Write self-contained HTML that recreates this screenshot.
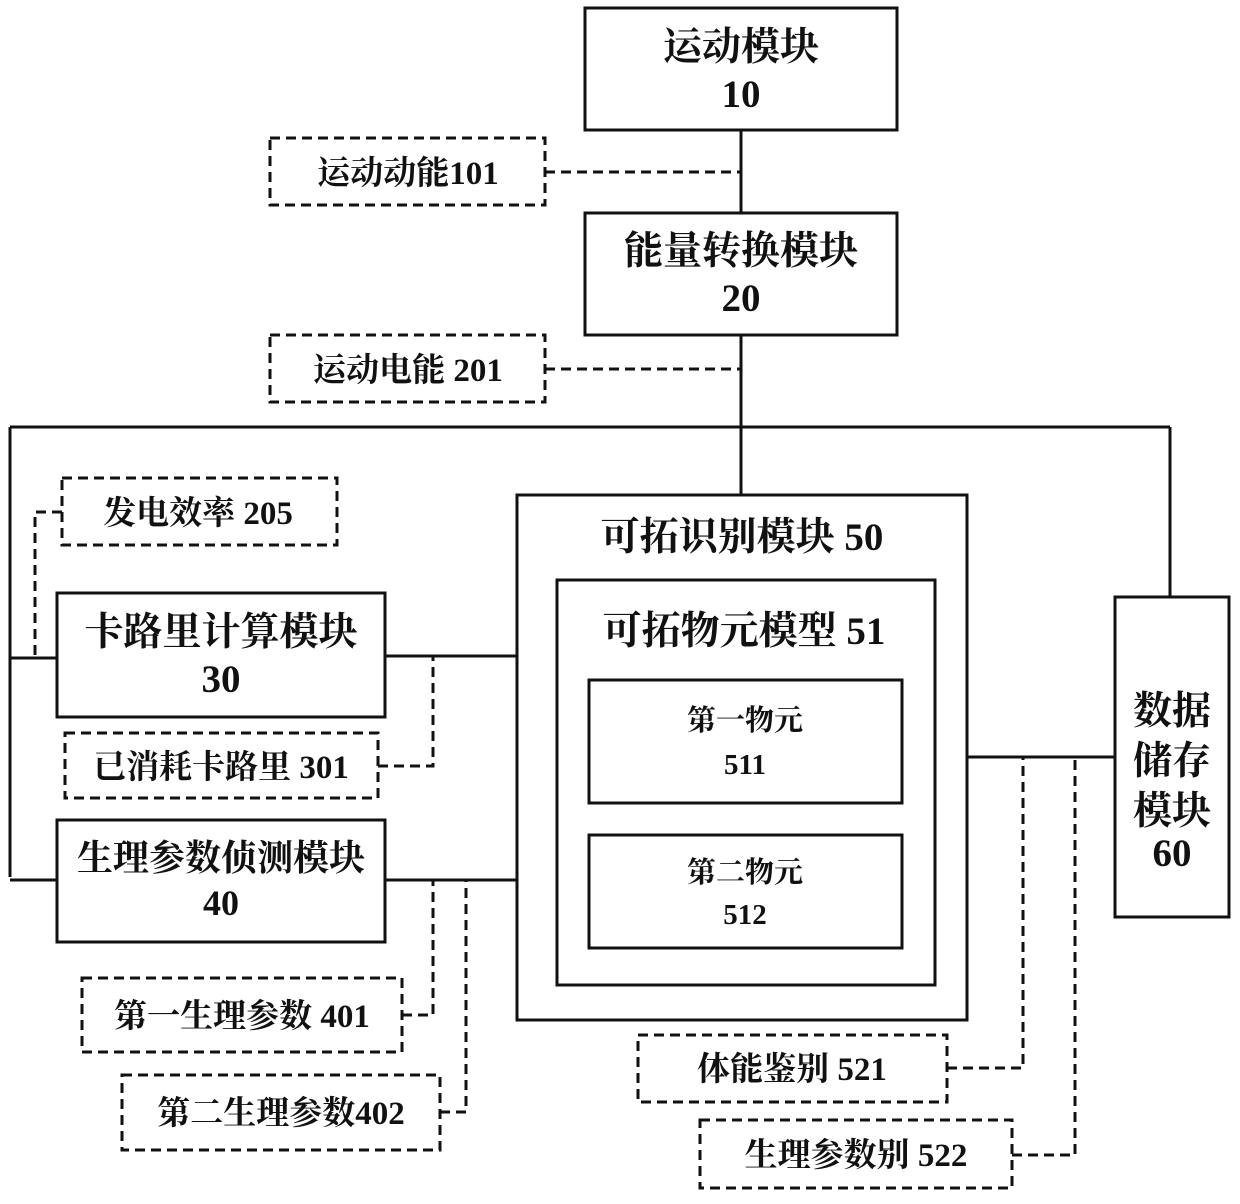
<!DOCTYPE html>
<html><head><meta charset="utf-8"><style>
html,body{margin:0;padding:0;background:#fff;}
svg text{font-family:"Liberation Serif","Noto Serif CJK SC",serif;fill:#111;text-anchor:middle;font-weight:bold;}
</style></head><body>
<svg width="1240" height="1199" viewBox="0 0 1240 1199" xmlns="http://www.w3.org/2000/svg">
<g fill="none" stroke="#111" stroke-width="3">
<rect x="585" y="8" width="312" height="122"/>
<rect x="585" y="213" width="312" height="122"/>
<rect x="57" y="593" width="328" height="124"/>
<rect x="57" y="820" width="328" height="122"/>
<rect x="517" y="495" width="450" height="525"/>
<rect x="557" y="580" width="378" height="405"/>
<rect x="589" y="680" width="313" height="123"/>
<rect x="589" y="835" width="313" height="113"/>
<rect x="1115" y="597" width="114" height="320"/>
<path d="M741 130V213M741 335V495M10 427H1170M10 427V877M1170 427V597M10 658H57M385 656H517M10 880H57M385 880H517M967 757H1115"/>
</g>
<g fill="none" stroke="#111" stroke-width="3" stroke-dasharray="10,6">
<rect x="270" y="138" width="275" height="67"/>
<rect x="270" y="335" width="275" height="67"/>
<rect x="62" y="478" width="275" height="67"/>
<rect x="65" y="733" width="313" height="65"/>
<rect x="82" y="978" width="320" height="74"/>
<rect x="122" y="1075" width="318" height="75"/>
<rect x="638" y="1035" width="309" height="67"/>
<rect x="700" y="1120" width="312" height="68"/>
<path d="M545 172H741M545 369H741M62 512H35V658M378 766H433V656M402 1015H433V880M440 1112H466V880M947 1068H1023V757M1012 1155H1075V757"/>
</g>
<g font-size="39">
<text x="741" y="60">运动模块</text><text x="741" y="107">10</text>
<text x="741" y="264">能量转换模块</text><text x="741" y="311">20</text>
<text x="221" y="645">卡路里计算模块</text><text x="221" y="692">30</text>
<text x="742" y="550">可拓识别模块 50</text>
<text x="744" y="644">可拓物元模型 51</text>
<text x="1172" y="724">数据</text><text x="1172" y="774">储存</text><text x="1172" y="824">模块</text><text x="1172" y="866">60</text>
</g>
<g font-size="36">
<text x="221" y="870">生理参数侦测模块</text><text x="221" y="915">40</text>
</g>
<g font-size="29">
<text x="745" y="730">第一物元</text><text x="745" y="774">511</text>
<text x="745" y="882">第二物元</text><text x="745" y="924">512</text>
</g>
<g font-size="33">
<text x="408" y="184">运动动能101</text>
<text x="408" y="381">运动电能 201</text>
<text x="198" y="524">发电效率 205</text>
<text x="221" y="778">已消耗卡路里 301</text>
<text x="242" y="1027">第一生理参数 401</text>
<text x="281" y="1124">第二生理参数402</text>
<text x="792" y="1080">体能鉴别 521</text>
<text x="856" y="1166">生理参数别 522</text>
</g>
</svg>
</body></html>
